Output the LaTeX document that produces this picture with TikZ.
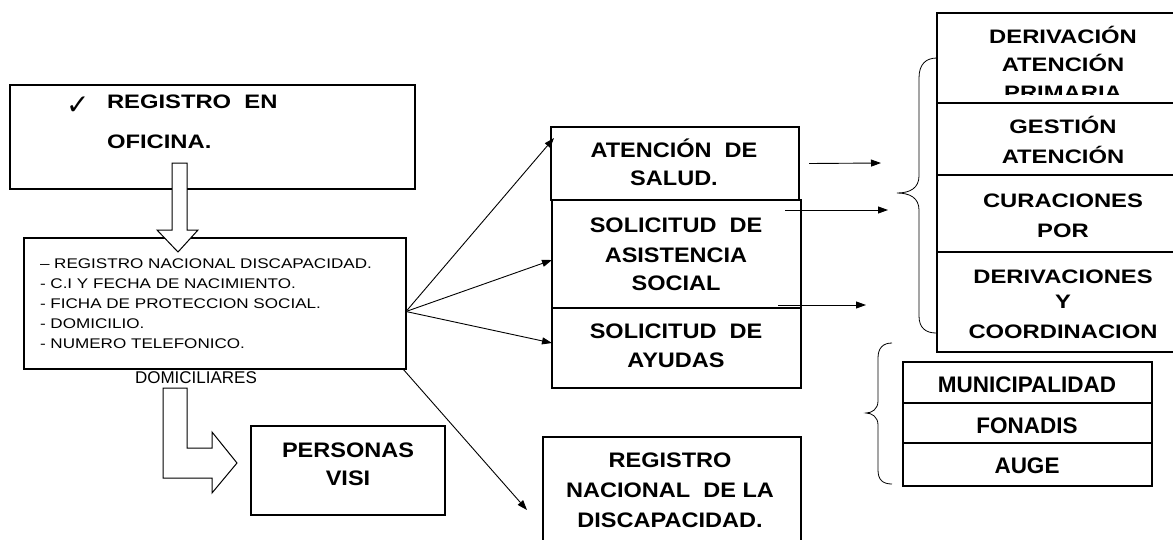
\documentclass[tikz,border=0pt]{standalone}
\usepackage{fontspec}
\setmainfont{Liberation Sans}
\newfontfamily\widesans[FakeStretch=1.22]{Liberation Sans}
\newfontfamily\midsans[FakeStretch=1.12]{Liberation Sans}
\newfontfamily\checkfont{DejaVu Sans}
\usetikzlibrary{arrows.meta}
\tikzset{
  box/.style={draw,line width=1.1pt,inner sep=0pt,outer sep=0pt,anchor=north west},
  hd/.style={inner sep=0pt,outer sep=0pt,anchor=base,font=\midsans\bfseries\fontsize{21}{25}\selectfont},
  hdl/.style={inner sep=0pt,outer sep=0pt,anchor=base west,font=\widesans\bfseries\fontsize{19.5}{24}\selectfont},
  hdr/.style={inner sep=0pt,outer sep=0pt,anchor=base,font=\widesans\bfseries\fontsize{19.5}{23}\selectfont},
  hdm/.style={inner sep=0pt,outer sep=0pt,anchor=base,font=\bfseries\fontsize{22.5}{26}\selectfont},
  lst/.style={inner sep=0pt,outer sep=0pt,anchor=base west,font=\widesans\fontsize{14}{17}\selectfont},
  link/.style={line width=0.9pt,-{Triangle[length=10pt,width=7pt]}},
  hollow/.style={draw,line width=1pt,fill=white,line join=miter},
  brc/.style={line width=0.8pt}
}
\begin{document}
\begin{tikzpicture}[x=1pt,y=-1pt]
\path[use as bounding box] (0,0) rectangle (1173,539);
\node[box,minimum width=405,minimum height=104] (oficina) at (10,85) {};
\node[box,minimum width=382,minimum height=131] (datos) at (24,238) {};
\node[box,minimum width=194,minimum height=89] (visitas) at (251,426) {};
\node[box,minimum width=248,minimum height=73] (salud) at (551,127) {};
\node[box,minimum width=249,minimum height=108] (asistencia) at (552,200) {};
\node[box,minimum width=249,minimum height=80] (ayudas) at (552,308) {};
\node[box,minimum width=258,minimum height=110] (rnd) at (543,437) {};
\node[box,minimum width=245,minimum height=90] (primaria) at (937,13) {};
\node[box,minimum width=245,minimum height=72] (gestion) at (937,103) {};
\node[box,minimum width=245,minimum height=77] (curaciones) at (937,175) {};
\node[box,minimum width=245,minimum height=100] (coordinacion) at (937,252) {};
\node[box,minimum width=249,minimum height=41] (muni) at (903,362) {};
\node[box,minimum width=249,minimum height=40] (fonadis) at (903,403) {};
\node[box,minimum width=249,minimum height=43] (auge) at (903,443) {};
\draw[line width=2pt] (fonadis.south west) -- (fonadis.south east);
\draw[hollow] (172,163) -- (187,163) -- (187,230) -- (198,230) -- (178,252) -- (157,230) -- (172,230) -- cycle;
\draw[hollow] (163,388) -- (187,388) -- (187,448) -- (212,448) -- (212,432) -- (237,463) -- (212,493) -- (212,478) -- (163,478) -- cycle;
\node[inner sep=0pt,outer sep=0pt,anchor=base west,font=\checkfont\fontsize{28}{32}\selectfont] (check) at (66,114) {✓};
\node[hdl] (oficina-1) at (107,108) {REGISTRO\ \ EN};
\node[hdl] (oficina-2) at (107,148) {OFICINA.};
\node[lst] (datos-1) at (40,268) {– REGISTRO NACIONAL DISCAPACIDAD.};
\node[lst] (datos-2) at (40,288) {- C.I Y FECHA DE NACIMIENTO.};
\node[lst] (datos-3) at (40,308) {- FICHA DE PROTECCION SOCIAL.};
\node[lst] (datos-4) at (40,328) {- DOMICILIO.};
\node[lst] (datos-5) at (40,348) {- NUMERO TELEFONICO.};
\node[inner sep=0pt,outer sep=0pt,anchor=base west,font=\fontsize{17}{20}\selectfont] (domiciliares) at (135,383) {DOMICILIARES};
\node[hd] (visitas-1) at (348,457) {PERSONAS};
\node[hd] (visitas-2) at (348,485) {VISI};
\node[hd] (salud-1) at (674,157) {ATENCIÓN\ \ DE};
\node[hd] (salud-2) at (674,185) {SALUD.};
\node[hd] (asistencia-1) at (676,232) {SOLICITUD\ \ DE};
\node[hd] (asistencia-2) at (676,262) {ASISTENCIA};
\node[hd] (asistencia-3) at (676,290) {SOCIAL};
\node[hd] (ayudas-1) at (676,338) {SOLICITUD\ \ DE};
\node[hd] (ayudas-2) at (676,367) {AYUDAS};
\node[hd] (rnd-1) at (670,467) {REGISTRO};
\node[hd] (rnd-2) at (670,497) {NACIONAL\ \ DE LA};
\node[hd] (rnd-3) at (670,527) {DISCAPACIDAD.};
\node[hdr] (primaria-1) at (1063,43) {DERIVACIÓN};
\node[hdr] (primaria-2) at (1063,71) {ATENCIÓN};
\begin{scope}
\clip (937,13) rectangle (1173,94);
\node[hdr] (primaria-3) at (1063,99) {PRIMARIA};
\end{scope}
\node[hdr] (gestion-1) at (1063,133) {GESTIÓN};
\node[hdr] (gestion-2) at (1063,163) {ATENCIÓN};
\node[hdr] (curaciones-1) at (1063,207) {CURACIONES};
\node[hdr] (curaciones-2) at (1063,237) {POR};
\node[hdr] (coordinacion-1) at (1063,283) {DERIVACIONES};
\node[hdr] (coordinacion-2) at (1063,308) {Y};
\node[hdr] (coordinacion-3) at (1063,338) {COORDINACION};
\node[hdm] (muni-1) at (1027,392) {MUNICIPALIDAD};
\node[hdm] (fonadis-1) at (1027,433) {FONADIS};
\node[hdm] (auge-1) at (1027,473) {AUGE};
\coordinate (rnd-tip) at (527,510);
\coordinate (llave-1) at (881,163);
\coordinate (llave-2) at (888,210);
\coordinate (llave-3) at (866,305);
\draw[link] ([yshift=-8pt]datos.east) -- ([xshift=3pt,yshift=-11pt]salud.north west);
\draw[link] ([yshift=-8pt]datos.east) -- ([yshift=-6pt]asistencia.west);
\draw[link] ([yshift=-8pt]datos.east) -- ([yshift=5pt]ayudas.west);
\draw[link] ([xshift=-3pt]datos.south east) -- (rnd-tip);
\draw[link] ([xshift=10pt]salud.east) -- (llave-1);
\draw[link] ([xshift=-16pt,yshift=-10pt]asistencia.north east) -- (llave-2);
\draw[link] ([xshift=-23pt,yshift=3pt]asistencia.south east) -- (llave-3);
\draw[brc] (937,58) .. controls (926,58) and (919,64) .. (919,78) -- (919,176) .. controls (919,188) and (910,193) .. (897,193) .. controls (910,193) and (919,198) .. (919,210) -- (919,316) .. controls (919,328) and (926,333) .. (936,333);
\draw[brc] (892,343) .. controls (883,343) and (878,348) .. (878,358) -- (878,401) .. controls (878,409) and (872,413) .. (866,413) .. controls (872,413) and (878,417) .. (878,425) -- (878,470) .. controls (878,480) and (883,484) .. (892,484);
\end{tikzpicture}
\end{document}
